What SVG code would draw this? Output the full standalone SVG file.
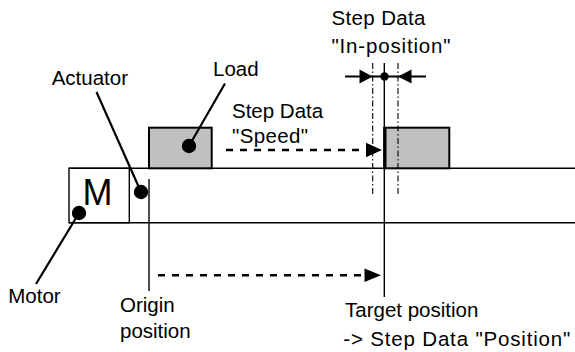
<svg xmlns="http://www.w3.org/2000/svg" width="575" height="352" viewBox="0 0 575 352">
<style>
text{font-family:"Liberation Sans",Arial,sans-serif;font-size:20.5px;fill:#000}
.ln{stroke:#000;stroke-width:1.4;fill:none}
.box{fill:#c0c0c0;stroke:#000;stroke-width:2}
.lead{stroke:#000;stroke-width:2.2;fill:none}
.dash{stroke:#000;stroke-width:2.6;stroke-dasharray:7 7;fill:none}
.dd{stroke:#000;stroke-width:1.1;stroke-dasharray:6 2.5 1.5 2.5;fill:none}
.dot{fill:#000}
.head{fill:#000}
</style>
<rect width="575" height="352" fill="#fff"/>
<g id="rail">
<line class="ln" x1="69" y1="168.3" x2="575" y2="168.3"/>
<line class="ln" x1="69" y1="222.7" x2="575" y2="222.7"/>
</g>
<g id="motor">
<rect class="ln" x="69" y="168.3" width="60.3" height="54.4"/>
<text x="82.5" y="205" style="font-size:36px">M</text>
</g>
<g id="actuator">
<line class="ln" x1="149" y1="179" x2="149" y2="291"/>
</g>
<g id="load">
<rect class="box" x="149" y="127.7" width="62.7" height="40.6"/>
</g>
<g id="target-load">
<rect class="box" x="384.3" y="127.7" width="65" height="40.6"/>
<line x1="385" y1="127" x2="385" y2="169" stroke="#000" stroke-width="3"/>
</g>
<g id="target-position">
<line class="ln" x1="384.3" y1="63" x2="384.3" y2="297"/>
<line class="dd" x1="372.7" y1="63" x2="372.7" y2="196"/>
<line class="dd" x1="398" y1="63" x2="398" y2="196"/>
</g>
<g id="connectors">
<line class="lead" x1="96.5" y1="92" x2="141" y2="192"/>
<circle class="dot" cx="141" cy="192" r="7.2"/>
<line class="lead" x1="225" y1="83.5" x2="189" y2="146"/>
<circle class="dot" cx="189" cy="146" r="7.2"/>
<line class="lead" x1="36" y1="284" x2="79" y2="213"/>
<circle class="dot" cx="79" cy="213" r="7.2"/>
<line class="dash" x1="226" y1="150" x2="367" y2="150"/>
<polygon class="head" points="366,142.7 382,150 366,157.3"/>
<line class="dash" x1="158" y1="275.3" x2="365" y2="275.3"/>
<polygon class="head" points="364.5,268.6 381,275.3 364.5,282"/>
<line class="ln" x1="345" y1="76.5" x2="426" y2="76.5" style="stroke-width:2"/>
<polygon class="head" points="359.5,69.5 372.7,76.5 359.5,83.5"/>
<polygon class="head" points="411.5,69.5 398,76.5 411.5,83.5"/>
<circle class="dot" cx="384.5" cy="76.5" r="4.2"/>
</g>
<g id="labels">
<text x="51.7" y="85">Actuator</text>
<text x="213" y="76">Load</text>
<text x="331.5" y="24.5" textLength="94">Step Data</text>
<text x="331.5" y="52.5" textLength="119">"In-position"</text>
<text x="232" y="118.3">Step Data</text>
<text x="232" y="143" textLength="76">"Speed"</text>
<text x="8.3" y="303.3">Motor</text>
<text x="120" y="311.7">Origin</text>
<text x="120" y="337.5">position</text>
<text x="345" y="316.8">Target position</text>
<text x="343.3" y="345.5" textLength="227">-&gt; Step Data "Position"</text>
</g>
</svg>
